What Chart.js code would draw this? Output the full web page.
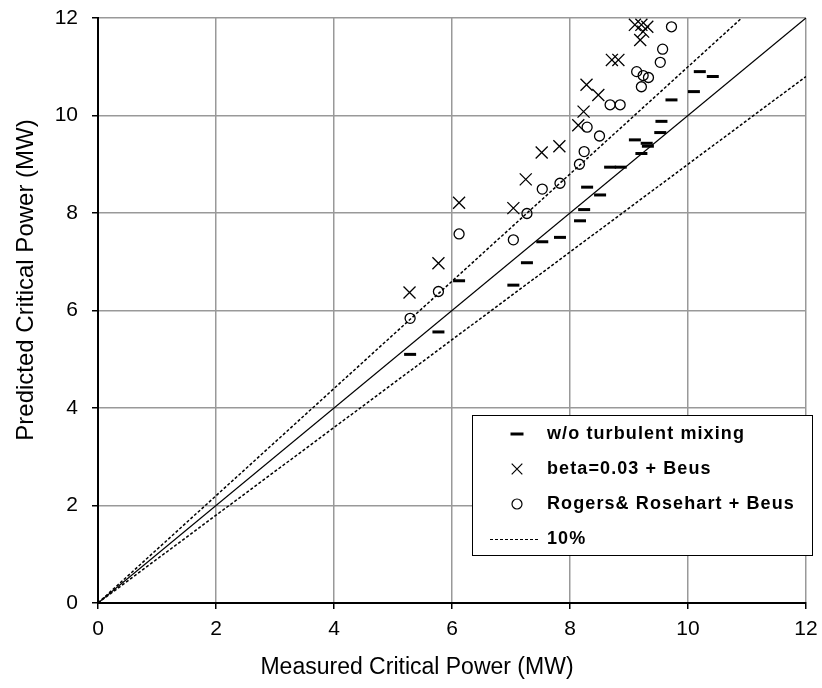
<!DOCTYPE html>
<html>
<head>
<meta charset="utf-8">
<script src="https://cdn.jsdelivr.net/npm/chart.js@4/dist/chart.umd.min.js"></script>
<style>
  body { margin: 0; background: #fff; }
  canvas { display: block; }
</style>
</head>
<body>
<canvas id="powerChart" width="822" height="688"></canvas>
<script>
// measured vs predicted critical power (MW)
const measuredNoMix = [5.29, 5.77, 6.12, 7.04, 7.27, 7.53, 7.83, 8.17, 8.24, 8.29, 8.51, 8.68, 8.86, 9.10, 9.21, 9.30, 9.32, 9.53, 9.55, 9.72, 10.10, 10.20, 10.42];
const predNoMix = [5.10, 5.56, 6.61, 6.52, 6.98, 7.41, 7.50, 7.84, 8.07, 8.53, 8.37, 8.94, 8.94, 9.50, 9.22, 9.43, 9.37, 9.65, 9.88, 10.32, 10.49, 10.90, 10.80];

const measuredBeta = [5.28, 5.77, 6.12, 7.04, 7.25, 7.52, 7.82, 8.14, 8.23, 8.28, 8.48, 8.71, 8.82, 9.10, 9.21, 9.31, 9.24, 9.19];
const predBeta = [6.37, 6.97, 8.21, 8.10, 8.69, 9.24, 9.37, 9.80, 10.08, 10.63, 10.42, 11.14, 11.14, 11.86, 11.86, 11.82, 11.72, 11.55];

const measuredRogers = [5.29, 5.77, 6.12, 7.04, 7.27, 7.53, 7.83, 8.16, 8.24, 8.29, 8.50, 8.68, 8.85, 9.13, 9.24, 9.33, 9.21, 9.53, 9.57, 9.72];
const predRogers = [5.84, 6.39, 7.57, 7.45, 7.99, 8.49, 8.61, 9.00, 9.26, 9.76, 9.58, 10.22, 10.22, 10.90, 10.82, 10.78, 10.59, 11.09, 11.36, 11.82];

// reference lines (end points)
const idealX = [0, 12];
const idealY = [0, 12];
const upperX = [0, 10.91];
const upperY = [0, 12];
const lowerX = [0, 12];
const lowerY = [0, 10.8];

const seriesLabels = ["w/o turbulent mixing", "beta=0.03 + Beus", "Rogers& Rosehart + Beus", "10%"];
const axisTicks = [0, 2, 4, 6, 8, 10, 12];

const toPoints = (xs, ys) => xs.map((x, i) => ({ x: x, y: ys[i] }));

const tickFont = { family: "'Liberation Sans', Arial, sans-serif", size: 21 };

// legend box + axis titles drawn by hand to sit where the original puts them
const extrasPlugin = {
  id: "extras",
  afterDraw(chart) {
    const ctx = chart.ctx;
    ctx.save();

    // axis titles
    ctx.fillStyle = "#000";
    ctx.font = "23px 'Liberation Sans', Arial, sans-serif";
    ctx.textAlign = "center";
    ctx.textBaseline = "alphabetic";
    ctx.fillText("Measured Critical Power (MW)", 417, 674);

    ctx.save();
    ctx.translate(33, 280);
    ctx.rotate(-Math.PI / 2);
    ctx.font = "24px 'Liberation Sans', Arial, sans-serif";
    ctx.fillText("Predicted Critical Power (MW)", 0, 0);
    ctx.restore();

    // legend
    const bx = 472, by = 415, bw = 340, bh = 140;
    ctx.fillStyle = "#fff";
    ctx.fillRect(bx, by, bw, bh);
    ctx.strokeStyle = "#000";
    ctx.lineWidth = 1;
    ctx.strokeRect(bx + 0.5, by + 0.5, bw, bh);

    const rows = [434, 469, 504, 539];
    const markX = 517;
    const styles = [
      { pointStyle: "line", radius: 6.5, borderWidth: 3, rotation: 0 },
      { pointStyle: "crossRot", radius: 7.5, borderWidth: 1.2, rotation: 0 },
      { pointStyle: "circle", radius: 5, borderWidth: 1.2, rotation: 0 },
    ];
    styles.forEach((st, i) => {
      ctx.strokeStyle = "#000";
      ctx.fillStyle = "rgba(0,0,0,0)";
      ctx.lineWidth = st.borderWidth;
      Chart.helpers.drawPoint(ctx, st, markX, rows[i]);
    });
    ctx.beginPath();
    ctx.strokeStyle = "#000";
    ctx.lineWidth = 1;
    ctx.setLineDash([3, 2]);
    ctx.moveTo(490, rows[3] + 0.5);
    ctx.lineTo(540, rows[3] + 0.5);
    ctx.stroke();
    ctx.setLineDash([]);

    ctx.fillStyle = "#000";
    ctx.font = "bold 18px 'Liberation Sans', Arial, sans-serif";
    ctx.letterSpacing = "1.1px";
    ctx.textAlign = "left";
    ctx.textBaseline = "middle";
    seriesLabels.forEach((t, i) => ctx.fillText(t, 547, rows[i]));
    ctx.restore();
  },
};

const axisCommon = {
  type: "linear",
  min: 0,
  max: 12,
  afterBuildTicks: (scale) => {
    scale.ticks = axisTicks.map((v) => ({ value: v }));
  },
  grid: {
    color: "#999",
    lineWidth: 1.5,
    tickColor: "#000",
    tickLength: 6,
    tickWidth: 1.5,
  },
  border: { display: true, color: "#000", width: 2 },
  title: { display: false },
};

// fixed axis boxes, no label overflow padding
const fixBox = (scale, w, h) => {
  if (w !== null) scale.width = w;
  if (h !== null) scale.height = h;
  scale.paddingTop = 0;
  scale.paddingBottom = 0;
  scale.paddingLeft = 0;
  scale.paddingRight = 0;
};

new Chart(document.getElementById("powerChart").getContext("2d"), {
  type: "scatter",
  data: {
    datasets: [
      {
        label: seriesLabels[0],
        data: toPoints(measuredNoMix, predNoMix),
        pointStyle: "line",
        pointRadius: 6,
        pointBorderWidth: 3,
        borderColor: "#000",
        backgroundColor: "#000",
      },
      {
        label: seriesLabels[1],
        data: toPoints(measuredBeta, predBeta),
        pointStyle: "crossRot",
        pointRadius: 8.5,
        pointBorderWidth: 1.3,
        borderColor: "#000",
        backgroundColor: "rgba(0,0,0,0)",
      },
      {
        label: seriesLabels[2],
        data: toPoints(measuredRogers, predRogers),
        pointStyle: "circle",
        pointRadius: 5,
        pointBorderWidth: 1.3,
        borderColor: "#000",
        backgroundColor: "rgba(0,0,0,0)",
      },
      {
        label: "y=x",
        data: toPoints(idealX, idealY),
        showLine: true,
        pointRadius: 0,
        borderColor: "#000",
        borderWidth: 1.3,
      },
      {
        label: seriesLabels[3],
        data: toPoints(upperX, upperY),
        showLine: true,
        pointRadius: 0,
        borderColor: "#000",
        borderWidth: 1.5,
        borderDash: [3, 2],
      },
      {
        label: "-10%",
        data: toPoints(lowerX, lowerY),
        showLine: true,
        pointRadius: 0,
        borderColor: "#000",
        borderWidth: 1.5,
        borderDash: [3, 2],
      },
    ],
  },
  options: {
    responsive: false,
    animation: false,
    layout: { padding: { top: 18, right: 16, left: 0, bottom: 0 } },
    plugins: {
      legend: { display: false },
      tooltip: { enabled: false },
    },
    scales: {
      x: {
        ...axisCommon,
        position: "bottom",
        ticks: { font: tickFont, color: "#000", padding: 8, maxRotation: 0 },
        afterFit: (scale) => fixBox(scale, null, 85),
      },
      y: {
        ...axisCommon,
        position: "left",
        ticks: { font: tickFont, color: "#000", padding: 14 },
        afterFit: (scale) => fixBox(scale, 98, null),
      },
    },
  },
  plugins: [extrasPlugin],
});
</script>
</body>
</html>
